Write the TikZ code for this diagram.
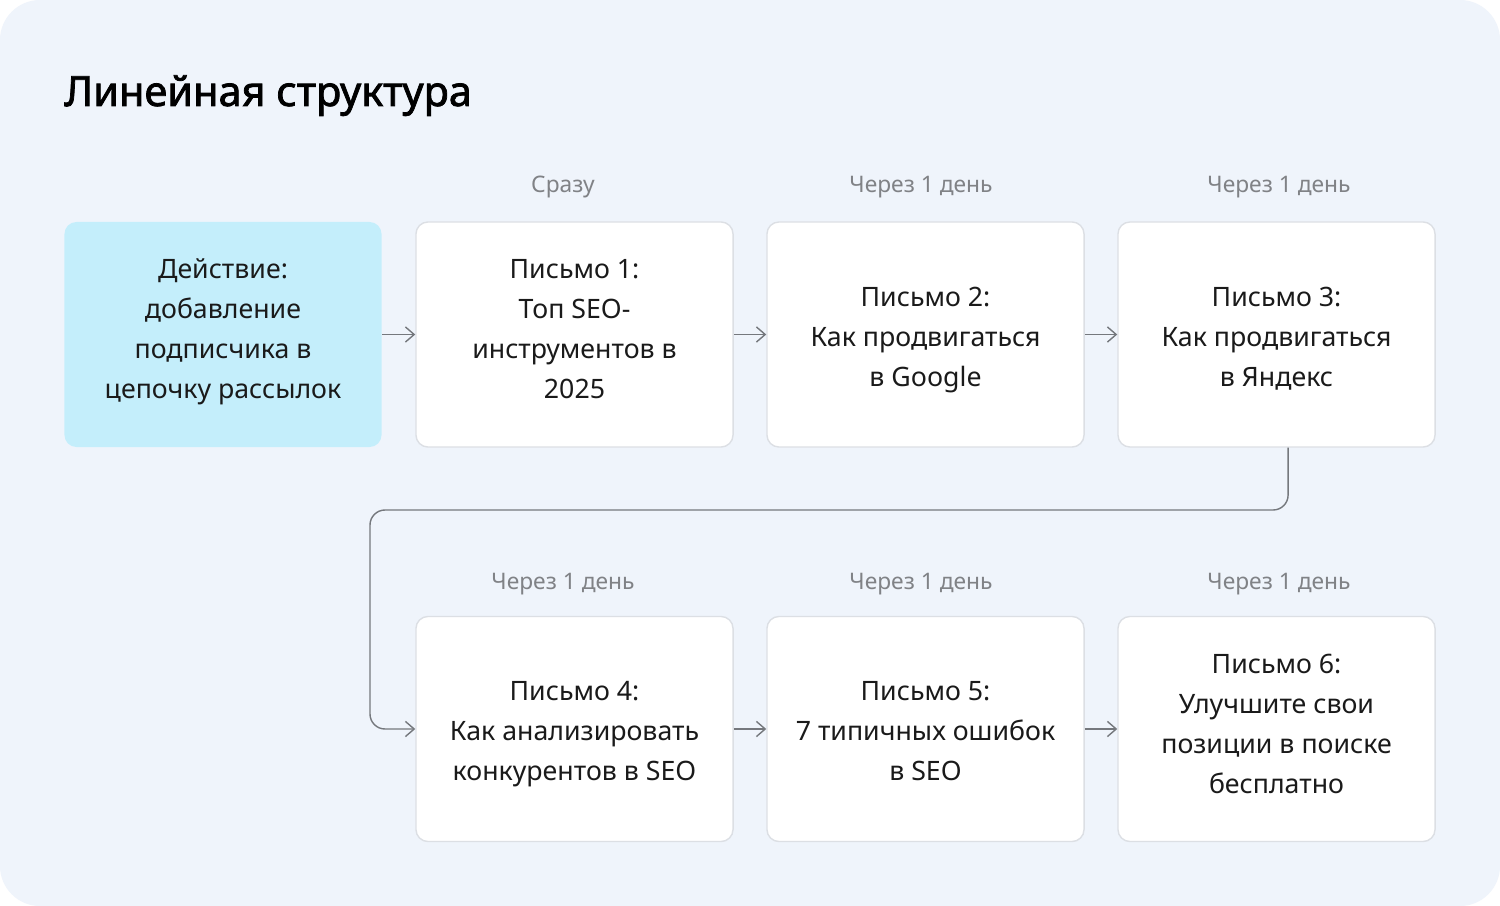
\documentclass[tikz,border=0pt]{standalone}
\usepackage{fontspec}
\setmainfont{Noto Sans}
\newfontfamily\headfont[FakeBold=1.8]{Noto Sans}
\usetikzlibrary{arrows.meta}
\definecolor{pagebg}{HTML}{EFF4FB}
\definecolor{actfill}{HTML}{C4EEFB}
\definecolor{boxline}{HTML}{DCDFE4}
\definecolor{wire}{HTML}{75787D}
\definecolor{delaygray}{HTML}{808286}
\definecolor{ink}{HTML}{1A1A1A}
\tikzset{
	mail/.style = {
		draw=boxline,
		line width=1pt,
		fill=white,
		rounded corners=0.3cm,
		minimum width=7.925cm,
		minimum height=5.625cm,
		align=center,
		text=ink,
		font=\fontsize{19}{28.45}\selectfont,
		text height=100pt,
		execute at end node=\strut
	},
	shortmail/.style = {
		mail,
		text height=82pt
	},
	action/.style = {
		mail,
		draw=none,
		fill=actfill
	},
	delay/.style = {
		anchor=base,
		text=delaygray,
		font=\fontsize{16.2}{19}\selectfont
	},
	heading/.style = {
		anchor=base west,
		inner sep=0pt,
		text=black,
		font=\fontsize{29.5}{36}\headfont\bfseries
	}
}
\tikzstyle{flow} = [->, >={Straight Barb[length=2.2mm,width=3.8mm]}, wire, line width=1pt]

\begin{document}
\begin{tikzpicture}[x=0.025cm, y=-0.025cm]
\fill[white] (0,0) rectangle (1500,906);
\fill[pagebg, rounded corners=1cm] (0,0) rectangle (1500,906);
\useasboundingbox (0,0) rectangle (1500,906);

\node[heading] (title) at (64,106) {Линейная структура};

% first row
\node[action] (act) at (223,334.5) {Действие:\\добавление\\подписчика в\\цепочку рассылок};
\node[mail] (mail1) at (574.5,334.5) {Письмо 1:\\Топ SEO-\\инструментов в\\2025};
\node[shortmail] (mail2) at (925.5,334.5) {Письмо 2:\\Как продвигаться\\в Google};
\node[shortmail] (mail3) at (1276.5,334.5) {Письмо 3:\\Как продвигаться\\в Яндекс};

% second row
\node[shortmail] (mail4) at (574.5,729) {Письмо 4:\\Как анализировать\\конкурентов в SEO};
\node[shortmail] (mail5) at (925.5,729) {Письмо 5:\\7 типичных ошибок\\в SEO};
\node[mail] (mail6) at (1276.5,729) {Письмо 6:\\Улучшите свои\\позиции в поиске\\бесплатно};

% delays
\node[delay] (d1) at (563,193) {Сразу};
\node[delay] (d2) at (921,193) {Через 1 день};
\node[delay] (d3) at (1279,193) {Через 1 день};
\node[delay] (d4) at (563,589) {Через 1 день};
\node[delay] (d5) at (921,589) {Через 1 день};
\node[delay] (d6) at (1279,589) {Через 1 день};

\draw[flow] (act) -- (mail1);
\draw[flow] (mail1) -- (mail2);
\draw[flow] (mail2) -- (mail3);
\coordinate (turn) at (370,510);
\draw[flow, rounded corners=0.375cm] ([xshift=0.29cm]mail3.south) |- (turn) |- (mail4.west);
\draw[flow] (mail4) -- (mail5);
\draw[flow] (mail5) -- (mail6);
\end{tikzpicture}
\end{document}
